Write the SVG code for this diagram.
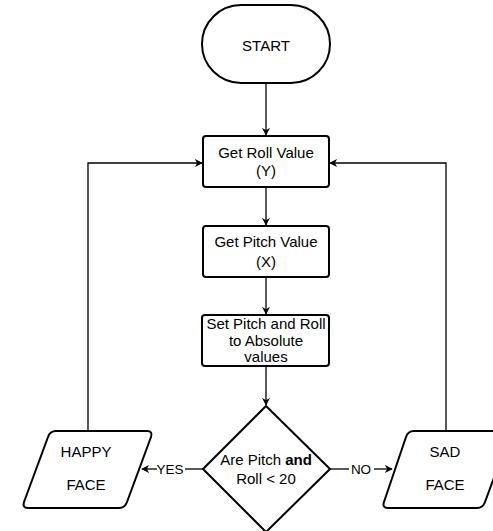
<svg xmlns="http://www.w3.org/2000/svg" width="493" height="531" viewBox="0 0 493 531">
<defs>
<marker id="arr" viewBox="0 0 10 10" refX="9" refY="5" markerWidth="8" markerHeight="8" markerUnits="userSpaceOnUse" orient="auto">
<path d="M0,0 L10,5 L0,10 L3,5 Z" fill="#000"/>
</marker>
<style>
.shape{fill:#fff;stroke:#000;stroke-width:2;stroke-linejoin:round}
.conn{fill:none;stroke:#000;stroke-width:1.3}
text{font-family:"Liberation Sans",Arial,sans-serif;font-size:15px;fill:#000;text-anchor:middle}
.lbl{font-size:13.5px}
</style>
</defs>
<rect width="493" height="531" fill="#fff"/>
<g id="connectors">
<path class="conn" d="M266,83 L266,135" marker-end="url(#arr)"/>
<path class="conn" d="M266,187 L266,225" marker-end="url(#arr)"/>
<path class="conn" d="M266,277 L266,314" marker-end="url(#arr)"/>
<path class="conn" d="M266,366 L266,405" marker-end="url(#arr)"/>
<path class="conn" d="M203,469 L185,469"/>
<path class="conn" d="M157,469 L142,469" marker-end="url(#arr)"/>
<path class="conn" d="M330,469 L349,469"/>
<path class="conn" d="M374,469 L392,469" marker-end="url(#arr)"/>
<path class="conn" d="M88,431 L88,163 L202,163" marker-end="url(#arr)"/>
<path class="conn" d="M446,431 L446,163 L330,163" marker-end="url(#arr)"/>
<text class="lbl" x="170" y="474">YES</text>
<text class="lbl" x="361" y="474">NO</text>
</g>
<g id="start">
<rect class="shape" x="202" y="5" width="128" height="78" rx="39" ry="39"/>
<text x="266" y="51">START</text>
</g>
<g id="get-roll">
<rect class="shape" x="203" y="136" width="126" height="51" rx="3"/>
<text x="266" y="158">Get Roll Value</text>
<text x="266" y="176">(Y)</text>
</g>
<g id="get-pitch">
<rect class="shape" x="203" y="226" width="126" height="51" rx="3"/>
<text x="266" y="247">Get Pitch Value</text>
<text x="266" y="267">(X)</text>
</g>
<g id="set-abs">
<rect class="shape" x="202" y="315" width="127" height="51" rx="3"/>
<text x="266" y="329">Set Pitch and Roll</text>
<text x="266" y="346">to Absolute</text>
<text x="266" y="362">values</text>
</g>
<g id="decision">
<path class="shape" d="M266,406 L330,469 L266,532 L203,469 Z"/>
<text x="266" y="465">Are Pitch <tspan font-weight="bold">and</tspan></text>
<text x="266" y="484">Roll &lt; 20</text>
</g>
<g id="happy">
<path class="shape" d="M56,431 L147,431 Q153,431 151,437 L127,502 Q125,508 119,508 L28,508 Q22,508 24,502 L48,437 Q50,431 56,431 Z"/>
<text x="86" y="457">HAPPY</text>
<text x="86" y="490">FACE</text>
</g>
<g id="sad">
<path class="shape" d="M414,431 L505,431 Q511,431 509,437 L485,502 Q483,508 477,508 L388,508 Q382,508 384,502 L406,437 Q408,431 414,431 Z"/>
<text x="445" y="457">SAD</text>
<text x="445" y="490">FACE</text>
</g>
</svg>
